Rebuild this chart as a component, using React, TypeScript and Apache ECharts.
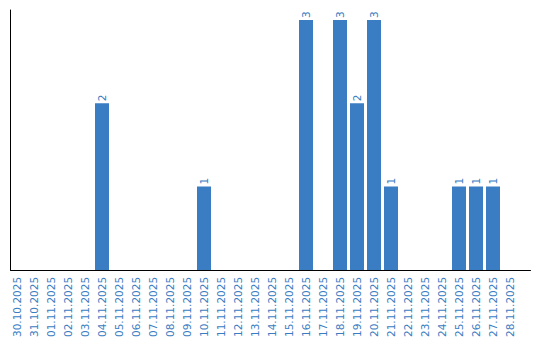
import React, { useEffect, useRef } from "react";
import * as echarts from "echarts";

const categories = [
  "30.10.2025", "31.10.2025", "01.11.2025", "02.11.2025", "03.11.2025",
  "04.11.2025", "05.11.2025", "06.11.2025", "07.11.2025", "08.11.2025",
  "09.11.2025", "10.11.2025", "11.11.2025", "12.11.2025", "13.11.2025",
  "14.11.2025", "15.11.2025", "16.11.2025", "17.11.2025", "18.11.2025",
  "19.11.2025", "20.11.2025", "21.11.2025", "22.11.2025", "23.11.2025",
  "24.11.2025", "25.11.2025", "26.11.2025", "27.11.2025", "28.11.2025",
];

const counts = [
  0, 0, 0, 0, 0,
  2, 0, 0, 0, 0,
  0, 1, 0, 0, 0,
  0, 0, 3, 0, 3,
  2, 3, 1, 0, 0,
  0, 1, 1, 1, 0,
];

const BLUE = "#3a7dc2";

export default function App() {
  const ref = useRef<HTMLDivElement>(null);
  useEffect(() => {
    if (!ref.current) return;
    const chart = echarts.init(ref.current, undefined, { renderer: "svg" });
    chart.setOption({
      animation: false,
      backgroundColor: "#ffffff",
      grid: [
        { left: 8.5, width: 510, top: 20, height: 250, containLabel: false },
        { left: 10.5, width: 520, top: 10, height: 260, containLabel: false },
      ],
      xAxis: [
        {
          type: "category",
          gridIndex: 0,
          data: categories,
          axisLine: { show: false },
          axisTick: { show: false },
          axisLabel: {
            interval: 0,
            rotate: 90,
            margin: 7,
            color: BLUE,
            fontSize: 10.5,
            fontFamily: "DejaVu Sans",
          },
        },
        {
          type: "value",
          gridIndex: 1,
          min: 0,
          max: 1,
          axisLine: { show: true, lineStyle: { color: "#000", width: 1 } },
          axisTick: { show: false },
          axisLabel: { show: false },
          splitLine: { show: false },
        },
      ],
      yAxis: [
        {
          type: "value",
          gridIndex: 0,
          min: 0,
          max: 3,
          show: false,
          splitLine: { show: false },
        },
        {
          type: "value",
          gridIndex: 1,
          min: 0,
          max: 1,
          axisLine: { show: true, lineStyle: { color: "#000", width: 1 } },
          axisTick: { show: false },
          axisLabel: { show: false },
          splitLine: { show: false },
        },
      ],
      series: [
        {
          type: "bar",
          xAxisIndex: 0,
          yAxisIndex: 0,
          data: counts.map((v) => (v === 0 ? null : v)),
          barWidth: 14,
          itemStyle: { color: BLUE },
          label: {
            show: true,
            position: "top",
            distance: 2,
            rotate: 90,
            align: "left",
            verticalAlign: "middle",
            color: BLUE,
            fontSize: 10.5,
            fontFamily: "DejaVu Sans",
          },
        },
      ],
    });
    return () => chart.dispose();
  }, []);
  return (
    <div
      ref={ref}
      style={{ position: "fixed", left: 0, top: 0, width: 540, height: 340 }}
    />
  );
}
